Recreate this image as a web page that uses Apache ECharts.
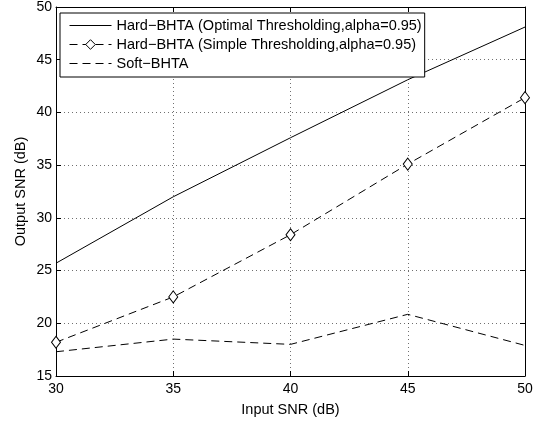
<!DOCTYPE html>
<html>
<head>
<meta charset="utf-8">
<script src="https://cdn.jsdelivr.net/npm/echarts@6/dist/echarts.min.js"></script>
<style>
html,body{margin:0;padding:0;background:#fff;}
#chart{width:542px;height:422px;}
</style>
</head>
<body>
<div id="chart"></div>
<script>
var inputSNR = [30, 35, 40, 45, 50];
var hardOptimal = [25.7, 32.0, 37.6, 43.1, 48.1];
var hardSimple = [18.2, 22.5, 28.4, 35.1, 41.4];
var softBHTA = [17.3, 18.5, 18.0, 20.85, 17.9];
var xTicks = [30, 35, 40, 45, 50];
var yTicks = [15, 20, 25, 30, 35, 40, 45, 50];
var seriesNames = [
  'Hard\u2212BHTA (Optimal Thresholding,alpha=0.95)',
  'Hard\u2212BHTA (Simple Thresholding,alpha=0.95)',
  'Soft\u2212BHTA'
];

function pairs(xs, ys) { return xs.map(function (x, i) { return [x, ys[i]]; }); }

var FONT = 'Liberation Sans, Arial, Helvetica, sans-serif';
var gridLine = { show: true, lineStyle: { color: '#333', width: 1, type: [1, 3], opacity: 0.7 } };

var chart = echarts.init(document.getElementById('chart'), null, { renderer: 'canvas' });
chart.setOption({
  animation: false,
  backgroundColor: '#fff',
  textStyle: { fontFamily: FONT, color: '#000' },
  grid: { left: 56, right: 17, top: 6, bottom: 46, containLabel: false },
  xAxis: [{
    type: 'value', min: xTicks[0], max: xTicks[xTicks.length - 1], interval: 5,
    position: 'bottom',
    name: 'Input SNR (dB)', nameLocation: 'middle', nameGap: 26,
    nameTextStyle: { fontSize: 14.5, color: '#000', fontFamily: FONT },
    axisLine: { show: true, onZero: false, lineStyle: { color: '#000', width: 1 } },
    axisTick: { show: true, inside: true, length: 5, lineStyle: { color: '#000' } },
    axisLabel: { fontSize: 14, color: '#000', margin: 6, fontFamily: FONT },
    splitLine: gridLine
  }, {
    type: 'value', min: xTicks[0], max: xTicks[xTicks.length - 1], interval: 5,
    position: 'top',
    axisLine: { show: true, onZero: false, lineStyle: { color: '#000', width: 1 } },
    axisTick: { show: true, inside: true, length: 5, lineStyle: { color: '#000' } },
    axisLabel: { show: false },
    splitLine: { show: false }
  }],
  yAxis: [{
    type: 'value', min: yTicks[0], max: yTicks[yTicks.length - 1], interval: 5,
    position: 'left',
    name: 'Output SNR (dB)', nameLocation: 'middle', nameGap: 28,
    nameMoveOverlap: false,
    nameTextStyle: { fontSize: 14.5, color: '#000', fontFamily: FONT },
    axisLine: { show: true, onZero: false, lineStyle: { color: '#000', width: 1 } },
    axisTick: { show: true, inside: true, length: 5, lineStyle: { color: '#000' } },
    axisLabel: { fontSize: 14, color: '#000', margin: 4, fontFamily: FONT },
    splitLine: gridLine
  }, {
    type: 'value', min: yTicks[0], max: yTicks[yTicks.length - 1], interval: 5,
    position: 'right',
    axisLine: { show: true, onZero: false, lineStyle: { color: '#000', width: 1 } },
    axisTick: { show: true, inside: true, length: 5, lineStyle: { color: '#000' } },
    axisLabel: { show: false },
    splitLine: { show: false }
  }],
  legend: {
    orient: 'vertical', left: 60, top: 13,
    padding: [5, 3, 6, 9],
    itemWidth: 42, itemHeight: 12, itemGap: 4,
    backgroundColor: '#fff', borderColor: '#000', borderWidth: 1, borderRadius: 0,
    lineStyle: { width: 1 },
    itemStyle: { borderWidth: 1 },
    textStyle: { fontSize: 14.5, color: '#000', fontFamily: FONT },
    data: seriesNames
  },
  series: [{
    name: seriesNames[0], type: 'line', xAxisIndex: 0, yAxisIndex: 0,
    data: pairs(inputSNR, hardOptimal),
    symbol: 'none', showSymbol: false,
    lineStyle: { color: '#000', width: 1, type: 'solid' },
    itemStyle: { color: '#000', opacity: 0 }
  }, {
    name: seriesNames[1], type: 'line', xAxisIndex: 0, yAxisIndex: 0,
    data: pairs(inputSNR, hardSimple),
    symbol: 'diamond', symbolSize: [9, 12], showSymbol: true,
    lineStyle: { color: '#000', width: 1, type: [8, 5] },
    itemStyle: { color: '#fff', borderColor: '#000', borderWidth: 1 }
  }, {
    name: seriesNames[2], type: 'line', xAxisIndex: 0, yAxisIndex: 0,
    data: pairs(inputSNR, softBHTA),
    symbol: 'none', showSymbol: false,
    lineStyle: { color: '#000', width: 1, type: [8, 5] },
    itemStyle: { color: '#000', opacity: 0 }
  }]
});
</script>
</body>
</html>
